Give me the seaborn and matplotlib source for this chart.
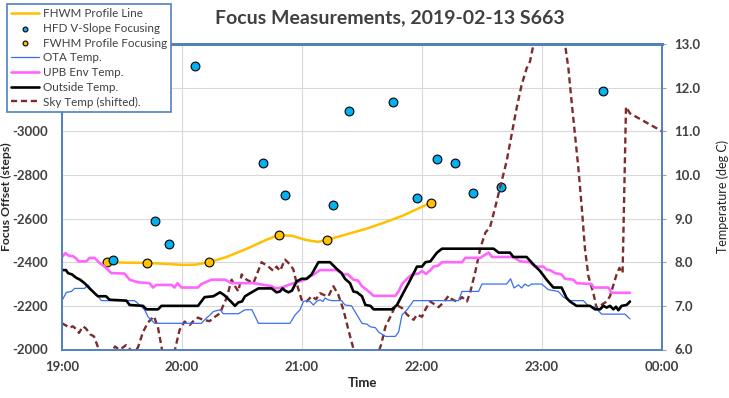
import matplotlib
matplotlib.use("Agg")
import matplotlib.pyplot as plt
import matplotlib.dates as mdates
from matplotlib.ticker import FormatStrFormatter
import pandas as pd
import seaborn as sns

# ---- data (minutes after 19:00) ----
line_t = [22.3, 32, 42.3, 52, 60, 67, 73.5, 82, 92, 102,
          108.3, 115, 122, 128, 132.3, 142, 152, 160, 170, 184.5]
line_v = [-2400, -2398, -2397, -2392, -2388, -2389, -2400, -2423, -2460, -2502,
          -2524, -2521, -2502, -2493, -2502, -2527, -2553, -2578, -2612, -2673]

fwhm_t = [22.3, 42.3, 73.5, 108.3, 132.3, 184.5]
fwhm_v = [-2403, -2397, -2403, -2527, -2504, -2673]

hfd_t = [25.3, 46.5, 53.5, 66.5, 100.3, 111.5, 135.3, 143.5, 165.5, 177.5,
         187.7, 196.7, 205.5, 219.5, 270.3]
hfd_v = [-2412, -2591, -2485, -3300, -2856, -2710, -2664, -3095, -3132, -2696,
         -2875, -2856, -2719, -2745, -3186]

ota_t = [0, 2.2, 4.7, 6.3, 11.3, 13, 14.7, 18, 19.7, 24.7,
         36.3, 38.8, 41.3, 43, 46.3, 69.7, 72.2, 74, 75.7, 79,
         80.7, 88.2, 91.5, 95, 98.2, 114, 116.5, 119, 120.7, 122.3,
         124, 125.7, 127.3, 129, 130.5, 131.5, 133, 134.8, 139.8, 141.5,
         144.8, 147.5, 150, 152.5, 154.2, 156.7, 158.3, 161.7, 166.7, 168.3,
         170, 172.5, 175.8, 198.3, 200, 208.3, 210, 222.3, 224.3, 226,
         228.2, 229.8, 231.5, 233.2, 234.8, 239.8, 243.2, 248.2, 250.7, 254,
         260.7, 263.2, 266.5, 269.8, 281.5, 284]
ota_v = [7.12, 7.31, 7.33, 7.4, 7.4, 7.48, 7.37, 7.22, 7.12, 7.12,
         7.12, 7.02, 6.91, 6.75, 6.6, 6.6, 6.72, 6.79, 6.87, 6.91,
         6.82, 6.82, 6.91, 6.91, 6.6, 6.6, 6.79, 6.91, 7.1, 7.12,
         7.1, 7.02, 7.1, 7.14, 7.1, 7.18, 7.14, 7.12, 7.12, 7.02,
         7.0, 6.79, 6.6, 6.58, 6.52, 6.5, 6.4, 6.3, 6.3, 6.4,
         6.79, 6.91, 7.12, 7.12, 7.33, 7.33, 7.5, 7.5, 7.62, 7.41,
         7.48, 7.41, 7.5, 7.45, 7.5, 7.5, 7.37, 7.33, 7.2, 7.12,
         7.12, 7.0, 6.97, 6.81, 6.81, 6.7]

upb_t = [0, 1.7, 3.3, 5.5, 7.2, 8.3, 12.2, 13.8, 16.3, 18.8,
         21.3, 24.7, 31.3, 33.8, 38, 43.8, 45.5, 47.2, 54.7, 56.3,
         57.7, 59.7, 68, 69.7, 74.8, 81.5, 84.8, 95.7, 104.8, 107,
         110, 113.2, 116, 121.5, 126.5, 129, 137.3, 140.7, 143, 145.7,
         148, 150, 153.3, 155.8, 166.7, 168.3, 170, 172.5, 175, 178.3,
         180, 182, 184.2, 185.8, 188, 190, 200, 201.7, 209.2, 210.8,
         213.3, 215, 225.7, 229, 234, 236.5, 240.7, 242.3, 244, 246.5,
         249.8, 251.5, 255.7, 257.3, 264.8, 265.7, 273.2, 274.8, 284]
upb_v = [8.12, 8.21, 8.15, 8.14, 8.08, 8.02, 8.02, 8.1, 8.1, 7.98,
         7.9, 7.75, 7.74, 7.6, 7.54, 7.52, 7.42, 7.48, 7.48, 7.42,
         7.52, 7.42, 7.42, 7.5, 7.6, 7.6, 7.52, 7.52, 7.45, 7.4,
         7.42, 7.48, 7.52, 7.6, 7.74, 7.82, 7.82, 7.72, 7.72, 7.6,
         7.58, 7.45, 7.33, 7.23, 7.23, 7.33, 7.5, 7.62, 7.72, 7.74,
         7.8, 7.73, 7.82, 7.9, 7.92, 8.0, 8.0, 8.1, 8.1, 8.15,
         8.22, 8.12, 8.12, 8.02, 8.0, 7.9, 7.9, 7.83, 7.82, 7.75,
         7.72, 7.62, 7.6, 7.52, 7.5, 7.42, 7.42, 7.3, 7.3]

out_t = [0, 2, 3, 5, 7.2, 9, 11.3, 13.8, 17.2, 18,
         22, 23.8, 32.2, 33.8, 40.5, 42.2, 48, 49.7, 68, 71.3,
         75.7, 79, 81, 84, 86.5, 88.2, 90, 91.5, 94.8, 98.2,
         104.8, 107.3, 109, 110.3, 111.5, 113.2, 115, 117.3, 119.8, 122.3,
         124.8, 128.2, 134, 137.3, 139.8, 141.5, 144, 145.7, 147.5, 150,
         151.7, 154.2, 155.8, 165, 167.5, 170.8, 174.2, 177.5, 180, 181.7,
         184.2, 187.5, 190, 215.8, 218.3, 224, 225.7, 232.3, 235.7, 239,
         242.3, 245.7, 249.8, 252.3, 254, 257.3, 264, 266.5, 269, 270.7,
         272.3, 274, 275.7, 277, 278.2, 279.8, 282.3, 284]
out_v = [7.82, 7.82, 7.75, 7.72, 7.64, 7.6, 7.52, 7.4, 7.25, 7.22,
         7.22, 7.14, 7.12, 7.02, 7.0, 6.92, 6.92, 7.0, 7.0, 7.2,
         7.22, 7.31, 7.25, 7.12, 7.0, 7.08, 7.1, 7.22, 7.31, 7.4,
         7.4, 7.31, 7.33, 7.4, 7.35, 7.31, 7.35, 7.56, 7.62, 7.62,
         7.72, 8.0, 8.0, 7.85, 7.75, 7.62, 7.52, 7.33, 7.31, 7.22,
         7.02, 7.0, 6.92, 6.92, 7.02, 7.31, 7.6, 7.9, 7.9, 8.0,
         8.02, 8.22, 8.31, 8.31, 8.22, 8.22, 8.12, 8.12, 7.95, 7.8,
         7.6, 7.42, 7.42, 7.18, 7.1, 7.0, 7.0, 6.92, 6.92, 7.0,
         6.96, 7.0, 6.92, 6.98, 6.9, 7.0, 7.02, 7.1]

sky_t = [0, 2, 3.5, 5.5, 7, 8.5, 10.5, 12, 14, 16,
         18, 19, 22, 25, 26.5, 28.5, 30, 32, 34.5, 36.5,
         38, 40.5, 43, 46, 48, 50, 52, 55, 56.5, 58.8,
         61.3, 63.8, 66.3, 68, 70.5, 73.8, 76.5, 79, 80.7, 82.3,
         84.8, 86.5, 88.2, 89.8, 92.3, 95.7, 99.8, 103.2, 105.7, 107.3,
         109, 111.5, 114, 115.7, 117.3, 119.8, 122.3, 124.8, 127, 129,
         131, 133.2, 135.7, 138.2, 140.7, 143.2, 145.7, 147, 152, 158.3,
         159.5, 161.7, 164.2, 166.7, 168, 170, 172.5, 175.8, 177.5, 180,
         181.7, 184.2, 186.7, 188.3, 190.8, 193.3, 195, 197.5, 200, 202.5,
         204.2, 206.7, 209.2, 211.7, 214, 216.5, 219.8, 222.3, 224.8, 227.3,
         229.8, 232.3, 234, 235.7, 240, 244, 248, 251.5, 253.2, 254.8,
         256.5, 258.2, 259.8, 261.5, 263.2, 265.7, 267.3, 269, 272.3, 274,
         275.7, 277.3, 278.7, 280.3, 282, 284, 300]
sky_v = [6.6, 6.55, 6.5, 6.53, 6.47, 6.38, 6.53, 6.48, 6.35, 6.3,
         6.05, 5.95, 5.85, 5.95, 6.07, 6.0, 6.03, 6.1, 5.98, 5.95,
         6.05, 6.4, 6.62, 6.76, 6.5, 6.0, 5.85, 5.85, 6.0, 6.45,
         6.64, 6.56, 6.68, 6.73, 6.68, 6.65, 6.75, 6.83, 7.02, 7.18,
         7.6, 7.45, 7.33, 7.72, 7.6, 7.52, 8.0, 7.9, 7.8, 7.9,
         7.8, 8.06, 7.95, 7.83, 7.52, 7.14, 7.1, 7.22, 7.15, 7.29,
         7.25, 7.22, 7.45, 7.25, 6.91, 6.45, 6.02, 5.9, 5.8, 5.95,
         6.1, 6.52, 6.75, 7.0, 7.0, 6.95, 6.8, 6.68, 6.8, 6.75,
         6.92, 7.1, 7.02, 6.97, 7.08, 7.23, 7.15, 7.1, 7.2, 7.1,
         7.33, 7.79, 8.33, 8.68, 8.8, 9.24, 9.85, 10.31, 10.92, 11.53,
         12.06, 12.44, 12.6, 12.98, 14.0, 14.4, 14.0, 13.0, 12.44, 11.68,
         10.92, 10.15, 9.3, 8.3, 7.68, 7.29, 6.95, 7.0, 7.1, 7.22,
         7.48, 7.72, 7.87, 7.75, 11.56, 11.41, 11.0]

# left-axis tick labels (the top two sit under the legend in the original)
focus_ticks = [-2000, -2200, -2400, -2600, -2800, -3000, -3200, -3400]
focus_labels = ["-2000", "-2200", "-2400", "-2600", "-2800", "-3000", "", ""]

base = pd.Timestamp("2019-02-13 19:00")


def to_time(mins):
    return base + pd.to_timedelta(mins, unit="min")


# ---- style ----
sns.set_style("white")
plt.rcParams["font.family"] = ["Lato", "DejaVu Sans"]
plt.rcParams["axes.unicode_minus"] = False

spine_col = "#4F81BD"
text_col = "#404040"

fig = plt.figure(figsize=(7.29, 3.98), dpi=100)
ax = fig.add_axes([62 / 729, 1 - 349.5 / 398, 600 / 729, 305.5 / 398])
ax2 = ax.twinx()

# focus data on left axis
sns.lineplot(x=to_time(line_t), y=line_v, ax=ax, color="#FFC000", linewidth=1.8,
             label="FHWM Profile Line")
sns.scatterplot(x=to_time(hfd_t), y=hfd_v, ax=ax, color="#00B0F0", edgecolor="black",
                linewidth=0.8, s=40, zorder=6, label="HFD V-Slope Focusing")
sns.scatterplot(x=to_time(fwhm_t), y=fwhm_v, ax=ax, color="#FFC000", edgecolor="black",
                linewidth=0.8, s=40, zorder=5, label="FWHM Profile Focusing")

# temperatures on right axis
sns.lineplot(x=to_time(sky_t), y=sky_v, ax=ax2, color="#7B2C2C", linewidth=1.7,
             label="Sky Temp (shifted).")
ax2.lines[-1].set_dashes((2.6, 1.6))
sns.lineplot(x=to_time(ota_t), y=ota_v, ax=ax2, color="#3A6EF0", linewidth=0.9,
             label="OTA Temp.")
sns.lineplot(x=to_time(upb_t), y=upb_v, ax=ax2, color="#FF66FF", linewidth=1.9,
             label="UPB Env Temp.")
sns.lineplot(x=to_time(out_t), y=out_v, ax=ax2, color="black", linewidth=1.9,
             label="Outside Temp.")

for a in (ax, ax2):
    if a.get_legend() is not None:
        a.get_legend().remove()

# axes ranges / ticks
ax.set_xlim(base, base + pd.Timedelta(hours=5))
ax.xaxis.set_major_locator(mdates.HourLocator())
ax.xaxis.set_major_formatter(mdates.DateFormatter("%H:%M"))
ax.set_ylim(-2000, -3400)
ax.set_yticks(focus_ticks)
ax.set_yticklabels(focus_labels)
ax2.set_ylim(6, 13)
ax2.set_yticks(range(6, 14))
ax2.yaxis.set_major_formatter(FormatStrFormatter("%.1f"))

ax.grid(True, color="#D9D9D9", linewidth=0.8)
ax.tick_params(axis="x", length=0, pad=8, labelsize=9.5, labelcolor=text_col)
ax.tick_params(axis="y", length=0, pad=10, labelsize=9.5, labelcolor=text_col)
ax2.tick_params(axis="y", length=3, width=0.8, color="#A0A0A0", pad=6,
                labelsize=9.5, labelcolor=text_col)
for lab in ax.get_xticklabels() + ax.get_yticklabels() + ax2.get_yticklabels():
    lab.set_fontweight("bold")

for a in (ax, ax2):
    for side in ("left", "right", "bottom", "top"):
        a.spines[side].set_color(spine_col)
        a.spines[side].set_linewidth(1.2)
    a.spines["top"].set_linewidth(2)

ax.set_xlabel("Time", fontsize=9.5, fontweight="bold", color="#262626", labelpad=3)
ax.set_ylabel("Focus Offset (steps)", fontsize=8.8, fontweight="bold", color="#262626",
              labelpad=0)
ax2.set_ylabel("Temperature (deg C)", fontsize=9, color="#262626", labelpad=11)

fig.text(390 / 729, 1 - 18 / 398, "Focus Measurements, 2019-02-13 S663", ha="center",
         va="center", fontsize=14, fontweight="bold", color=text_col)

# legend in the reference order
h1, l1 = ax.get_legend_handles_labels()
h2, l2 = ax2.get_legend_handles_labels()
lookup = dict(zip(l1 + l2, h1 + h2))
order = ["FHWM Profile Line", "HFD V-Slope Focusing", "FWHM Profile Focusing",
         "OTA Temp.", "UPB Env Temp.", "Outside Temp.", "Sky Temp (shifted)."]
leg = fig.legend([lookup[k] for k in order], order, loc="upper left",
                 bbox_to_anchor=(7 / 729, 1 - 4 / 398), fontsize=8.4, frameon=True,
                 fancybox=False, edgecolor=spine_col, framealpha=1, handlelength=2.4,
                 handletextpad=0.35, labelspacing=0.32, borderpad=0.35, markerscale=0.55,
                 borderaxespad=0)
leg.get_frame().set_linewidth(1.2)
for t in leg.get_texts():
    t.set_color(text_col)

fig.savefig("out.png", dpi=100)
